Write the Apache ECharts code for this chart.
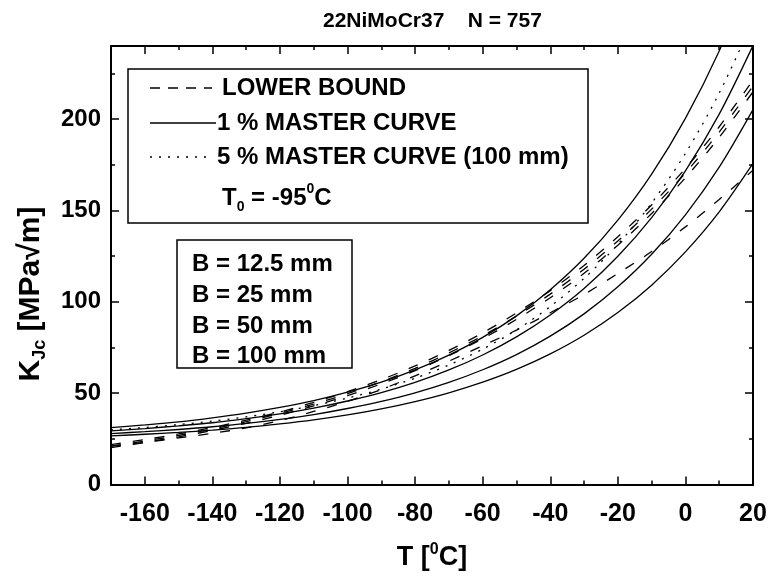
<!DOCTYPE html>
<html><head><meta charset="utf-8">
<script src="https://cdn.jsdelivr.net/npm/echarts@6/dist/echarts.min.js"></script>
<style>html,body{margin:0;padding:0;background:#fff}#c{width:770px;height:576px}</style>
</head><body><div id="c"></div>
<script>
// ---- data ----
const temps = [-170,-160,-150,-140,-130,-120,-110,-100,-90,-80,-70,-60,-50,-40,-30,-20,-10,0,10,20];
// 1 % master curves (solid)
const mc1_B12_5 = [31.1,32.6,34.3,36.5,39.1,42.2,45.9,50.5,56.0,62.7,70.8,80.5,92.3,106.6,123.8,144.7,169.9,200.4,237.3,281.9];
const mc1_B25   = [29.3,30.6,32.1,33.8,36.0,38.6,41.8,45.7,50.3,55.9,62.7,70.9,80.8,92.8,107.3,124.9,146.1,171.7,202.7,240.2];
const mc1_B50   = [27.9,28.9,30.1,31.6,33.5,35.7,38.3,41.6,45.5,50.2,55.9,62.8,71.1,81.2,93.4,108.2,126.0,147.6,173.7,205.2];
const mc1_B100  = [26.6,27.5,28.5,29.8,31.3,33.2,35.4,38.1,41.4,45.4,50.2,56.0,63.0,71.5,81.7,94.1,109.1,127.3,149.2,175.7];
// 5 % master curve, 100 mm (dotted)
const mc5_B100  = [29.9,31.2,32.8,34.7,37.0,39.8,43.2,47.3,52.2,58.2,65.4,74.1,84.6,97.4,112.8,131.4,154.0,181.2,214.2,254.0];
// lower bound curves (dashed)
const lb_1 = [21.8,24.6,27.7,31.2,35.2,39.7,45.0,50.8,57.4,64.9,73.4,83.0,93.9,106.1,119.9,135.6,153.0,173.0,195.8,221.3];
const lb_2 = [21.0,23.8,26.9,30.4,34.4,38.9,44.0,49.7,56.3,63.6,72.0,81.4,92.1,104.2,117.8,133.3,150.7,170.5,192.9,218.1];
const lb_3 = [20.2,23.0,26.1,29.6,33.5,37.9,43.0,48.6,55.1,62.3,70.5,79.8,90.4,102.2,115.6,131.0,148.3,167.9,190.0,214.9];
const lb_4 = [21.0,23.0,25.5,28.0,31.0,35.0,40.0,45.5,52.0,59.5,67.5,76.0,84.5,94.0,104.0,115.5,127.5,141.0,156.0,172.0];
// axis ticks
const xMajor = [-160,-140,-120,-100,-80,-60,-40,-20,0,20];
const xMinor = [-170,-150,-130,-110,-90,-70,-50,-30,-10,10];
const yMajor = [0,50,100,150,200];
const yMinor = [25,75,125,175,225];

const FONT = "'Liberation Sans', Arial, sans-serif";
const zip = a => temps.map((t,i)=>[t,a[i]]);
const chart = echarts.init(document.getElementById('c'), null, {renderer:'canvas'});

function mkSeries(arr, type){
  return {type:'line', data:zip(arr), symbol:'none', smooth:0.3, clip:true,
    lineStyle:{color:'#000', width:1.3, type:type}, silent:true, animation:false};
}
const DASH=[10,12], DOT=[2,7];
const lbl = {fontFamily:FONT, fontWeight:'bold', fontSize:24, color:'#000'};

function xAx(pos, ticks, len, labels, extra){
  return Object.assign({type:'value', min:-170, max:20, position:pos,
    axisLine:{show:true, onZero:false, lineStyle:{color:'#000', width:2}},
    axisTick:{show:true, inside:true, length:len, customValues:ticks, lineStyle:{color:'#000', width:1.5}},
    axisLabel: labels ? Object.assign({customValues:ticks, margin:17}, lbl, {fontSize:25}) : {show:false},
    splitLine:{show:false}}, extra||{});
}
function yAx(pos, ticks, len, labels, extra){
  return Object.assign({type:'value', min:0, max:240, position:pos,
    axisLine:{show:true, onZero:false, lineStyle:{color:'#000', width:2}},
    axisTick:{show:true, inside:true, length:len, customValues:ticks, lineStyle:{color:'#000', width:1.5}},
    axisLabel: labels ? Object.assign({customValues:ticks, margin:10}, lbl) : {show:false},
    splitLine:{show:false}}, extra||{});
}

const option = {
  backgroundColor:'#fff',
  animation:false,
  title:{text:'22NiMoCr37    N = 757', left:318, top:6,
    textStyle:{fontFamily:FONT, fontWeight:'bold', fontSize:21, color:'#000'}},
  grid:{left:111, right:17, top:46, bottom:86, containLabel:false},
  xAxis:[
    xAx('bottom', xMajor, 8, true, {
      name:'{n|T [}{s|0}{n|C]}', nameLocation:'middle', nameGap:57,
      nameTextStyle:{rich:{
        n:{fontFamily:FONT, fontWeight:'bold', fontSize:27, color:'#000', lineHeight:32, verticalAlign:'middle'},
        s:{fontFamily:FONT, fontWeight:'bold', fontSize:16, color:'#000', lineHeight:32, verticalAlign:'top'}}}}),
    xAx('bottom', xMinor, 4, false),
    xAx('top', xMajor, 8, false),
    xAx('top', xMinor, 4, false)
  ],
  yAxis:[
    yAx('left', yMajor, 8, true),
    yAx('left', yMinor, 4, false),
    yAx('right', yMajor, 8, false),
    yAx('right', yMinor, 4, false)
  ],
  series:[
    mkSeries(mc1_B12_5,'solid'), mkSeries(mc1_B25,'solid'), mkSeries(mc1_B50,'solid'), mkSeries(mc1_B100,'solid'),
    mkSeries(mc5_B100, DOT),
    mkSeries(lb_1, DASH), mkSeries(lb_2, DASH), mkSeries(lb_3, DASH), mkSeries(lb_4, DASH)
  ],
  graphic:[
    {type:'text', x:31, y:294, rotation:Math.PI/2, style:{text:'{n|K}{s|Jc}{n| [MPa√m]}', align:'center', verticalAlign:'middle',
      rich:{
        n:{fontFamily:FONT, fontWeight:'bold', fontSize:30, fill:'#000', lineHeight:36, verticalAlign:'middle'},
        s:{fontFamily:FONT, fontWeight:'bold', fontSize:18, fill:'#000', lineHeight:36, verticalAlign:'bottom'}}}, z:11},
    {type:'rect', shape:{x:128, y:69, width:460, height:154}, style:{fill:'#fff', stroke:'#000', lineWidth:1.5}, z:10},
    {type:'line', shape:{x1:150, y1:88, x2:212, y2:88}, style:{stroke:'#000', lineWidth:1.3, lineDash:[10,8]}, z:11},
    {type:'line', shape:{x1:150, y1:123, x2:216, y2:123}, style:{stroke:'#000', lineWidth:1.3}, z:11},
    {type:'line', shape:{x1:150, y1:157, x2:212, y2:157}, style:{stroke:'#000', lineWidth:1.3, lineDash:[2,7]}, z:11},
    {type:'text', x:222, y:88, style:{text:'LOWER BOUND', fontFamily:FONT, fontWeight:'bold', fontSize:24, fill:'#000', verticalAlign:'middle'}, z:11},
    {type:'text', x:217, y:123, style:{text:'1 % MASTER CURVE', fontFamily:FONT, fontWeight:'bold', fontSize:24, fill:'#000', verticalAlign:'middle'}, z:11},
    {type:'text', x:217, y:157, style:{text:'5 % MASTER CURVE (100 mm)', fontFamily:FONT, fontWeight:'bold', fontSize:24, fill:'#000', verticalAlign:'middle'}, z:11},
    {type:'text', x:222, y:198, style:{text:'{n|T}{s|0}{n| = -95}{p|0}{n|C}', verticalAlign:'middle',
      rich:{
        n:{fontFamily:FONT, fontWeight:'bold', fontSize:24, fill:'#000', lineHeight:32, verticalAlign:'middle'},
        s:{fontFamily:FONT, fontWeight:'bold', fontSize:14, fill:'#000', lineHeight:32, verticalAlign:'bottom'},
        p:{fontFamily:FONT, fontWeight:'bold', fontSize:14, fill:'#000', lineHeight:32, verticalAlign:'top'}}}, z:11},
    {type:'rect', shape:{x:177, y:240, width:175, height:128}, style:{fill:'#fff', stroke:'#000', lineWidth:1.5}, z:10},
    {type:'text', x:192, y:264, style:{text:'B = 12.5 mm', fontFamily:FONT, fontWeight:'bold', fontSize:24, fill:'#000', verticalAlign:'middle'}, z:11},
    {type:'text', x:192, y:295, style:{text:'B = 25 mm', fontFamily:FONT, fontWeight:'bold', fontSize:24, fill:'#000', verticalAlign:'middle'}, z:11},
    {type:'text', x:192, y:326, style:{text:'B = 50 mm', fontFamily:FONT, fontWeight:'bold', fontSize:24, fill:'#000', verticalAlign:'middle'}, z:11},
    {type:'text', x:192, y:356, style:{text:'B = 100 mm', fontFamily:FONT, fontWeight:'bold', fontSize:24, fill:'#000', verticalAlign:'middle'}, z:11}
  ]
};
chart.setOption(option);
</script></body></html>
